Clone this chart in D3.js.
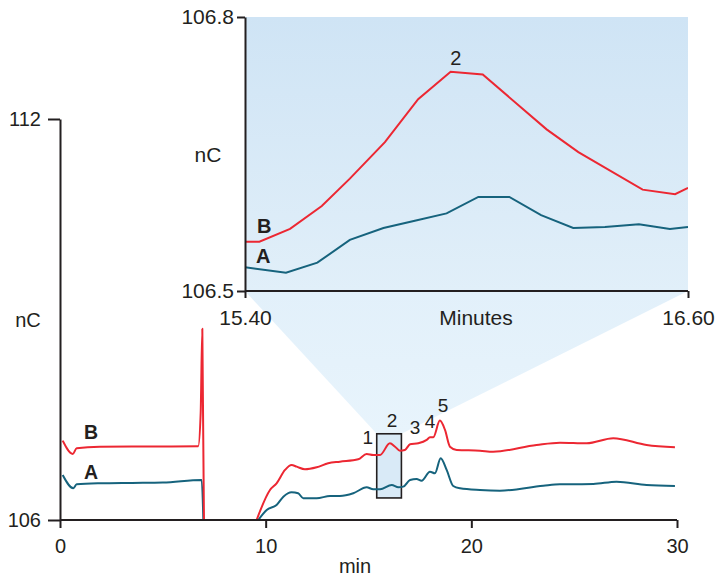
<!DOCTYPE html>
<html>
<head>
<meta charset="utf-8">
<script src="https://cdn.jsdelivr.net/npm/d3@7"></script>
<style>
  html, body { margin: 0; padding: 0; background: #fff; }
  svg { display: block; font-family: "Liberation Sans", Arial, sans-serif; }
</style>
</head>
<body>
<svg id="chart" width="722" height="577"></svg>
<script>
// ---------- Main chromatogram data (min, nC) ----------
const timesB = [0.13, 0.62, 0.81, 1.94, 3.5, 5.0, 6.72, 6.84, 6.92, 7.0, null,
  9.56, 10.21, 10.53, 10.94, 11.26, 11.51, 11.91, 12.48, 13.04, 13.61, 14.50, 14.91, 15.23, 15.56,
  16.04, 16.29, 16.53, 16.77, 17.02, 17.42, 17.83, 17.99, 18.15, 18.47, 18.72, 18.96, 19.29, 20.42,
  21.06, 23.17, 24.31, 25.61, 26.90, 28.52, 29.90];
const valuesB = [107.187, 106.988, 107.073, 107.097, 107.100, 107.100, 107.105, 107.6, 108.86, 106.0, null,
  106.0, 106.449, 106.549, 106.749, 106.823, 106.798, 106.759, 106.789, 106.849, 106.873, 106.909, 106.988, 106.973, 106.973,
  107.148, 107.097, 107.037, 107.048, 107.133, 107.148, 107.198, 107.238, 107.238, 107.487, 107.347, 107.097, 107.048, 107.037,
  107.022, 107.123, 107.157, 107.148, 107.223, 107.123, 107.088];

const timesA = [0.13, 0.65, 0.81, 1.94, 3.5, 5.0, 6.89, 6.97, null,
  9.64, 10.05, 10.53, 10.86, 11.26, 11.58, 11.83, 12.48, 13.13, 13.61, 14.26, 14.91, 15.23, 15.56,
  16.13, 16.45, 16.69, 17.02, 17.34, 17.58, 17.99, 18.23, 18.51, 18.80, 19.12, 19.45, 20.42,
  21.39, 23.50, 24.31, 25.93, 27.06, 28.52, 29.90];
const valuesA = [106.674, 106.475, 106.534, 106.549, 106.555, 106.560, 106.599, 106.0, null,
  106.0, 106.150, 106.225, 106.349, 106.415, 106.400, 106.325, 106.325, 106.359, 106.359, 106.400, 106.490, 106.460, 106.460,
  106.524, 106.490, 106.499, 106.599, 106.614, 106.588, 106.723, 106.699, 106.924, 106.749, 106.509, 106.475, 106.449,
  106.439, 106.513, 106.534, 106.539, 106.573, 106.524, 106.509];

const peakLabels = ["1", "2", "3", "4", "5"];
const peakTimes  = [14.97, 16.14, 17.26, 17.99, 18.62];
const peakValues = [107.138, 107.392, 107.287, 107.377, 107.617];

const mainXTicks = [0, 10, 20, 30];
const mainYTicks = [106, 112];

// zoom window
const zoomTimeRange = [15.40, 16.60];
const zoomBoxValues = [106.33, 107.29];

// ---------- Inset data ----------
const insetTimesB = [15.40, 15.439, 15.522, 15.608, 15.684, 15.779, 15.869, 15.957, 16.044, 16.217, 16.303, 16.477, 16.565, 16.60];
const insetValuesB = [106.554, 106.554, 106.568, 106.593, 106.623, 106.663, 106.710, 106.740, 106.737, 106.677, 106.652, 106.611, 106.606, 106.613];
const insetTimesA = [15.40, 15.511, 15.596, 15.684, 15.775, 15.860, 15.946, 16.032, 16.116, 16.202, 16.289, 16.375, 16.467, 16.551, 16.60];
const insetValuesA = [106.526, 106.520, 106.531, 106.556, 106.569, 106.577, 106.585, 106.603, 106.603, 106.583, 106.569, 106.570, 106.573, 106.568, 106.570];
const insetXTicks = [15.40, 16.60];
const insetYTicks = [106.5, 106.8];
const insetPeakLabel = "2";
const insetPeakTime = 15.971;
const insetPeakValue = 106.747;

const seriesNames = ["B", "A"];

// ---------- Drawing ----------
const svg = d3.select("#chart");
const RED = "#ec2732", TEAL = "#16637d", INK = "#231f20";
const FONT = "Liberation Sans, Arial, sans-serif";

const x = d3.scaleLinear().domain([0, 30]).range([60, 677]);
const y = d3.scaleLinear().domain([106, 112]).range([520, 119]);

const xi = d3.scaleLinear().domain(zoomTimeRange).range([245, 688]);
const yi = d3.scaleLinear().domain([106.5, 106.8]).range([291, 17]);

const defs = svg.append("defs");
const grad = defs.append("linearGradient").attr("id", "insetGrad")
  .attr("x1", 0).attr("y1", 0).attr("x2", 0).attr("y2", 1);
grad.append("stop").attr("offset", "0%").attr("stop-color", "#cfe4f5");
grad.append("stop").attr("offset", "100%").attr("stop-color", "#e1eff9");
const grad2 = defs.append("linearGradient").attr("id", "coneGrad")
  .attr("x1", 0).attr("y1", 0).attr("x2", 0).attr("y2", 1);
grad2.append("stop").attr("offset", "0%").attr("stop-color", "#e2f0fa");
grad2.append("stop").attr("offset", "100%").attr("stop-color", "#e8f4fc");

defs.append("clipPath").attr("id", "mainClip").append("rect")
  .attr("x", x(0)).attr("y", y(112) - 5).attr("width", x(30) - x(0) + 5).attr("height", y(106) - y(112) + 5);
defs.append("clipPath").attr("id", "insetClip").append("rect")
  .attr("x", xi(zoomTimeRange[0])).attr("y", yi(106.8)).attr("width", xi(zoomTimeRange[1]) - xi(zoomTimeRange[0])).attr("height", yi(106.5) - yi(106.8));

// Cone from zoom box to inset
const coneTopL = [xi(zoomTimeRange[0]), yi(106.5)], coneTopR = [xi(zoomTimeRange[1]), yi(106.5)];
const boxL = x(zoomTimeRange[0]), boxR = x(zoomTimeRange[1]);
const boxT = y(zoomBoxValues[1]), boxB = y(zoomBoxValues[0]);
svg.append("path")
  .attr("d", d3.line()([coneTopL, [boxL, boxT], [boxR, boxT], coneTopR]) + "Z")
  .attr("fill", "url(#coneGrad)");

// Inset background
svg.append("rect")
  .attr("x", xi(zoomTimeRange[0])).attr("y", yi(106.8))
  .attr("width", xi(zoomTimeRange[1]) - xi(zoomTimeRange[0]))
  .attr("height", yi(106.5) - yi(106.8))
  .attr("fill", "url(#insetGrad)");

// Zoom box
svg.append("rect")
  .attr("x", boxL).attr("y", boxT).attr("width", boxR - boxL).attr("height", boxB - boxT)
  .attr("fill", "#d9eaf7").attr("stroke", INK).attr("stroke-width", 1.6);

// Main lines
const zip = (ts, vs) => ts.map((t, i) => [t, vs[i]]);
const mainLine = d3.line()
  .defined(d => d[0] != null && d[1] != null)
  .x(d => x(d[0])).y(d => y(d[1]))
  .curve(d3.curveMonotoneX);
const gMain = svg.append("g").attr("clip-path", "url(#mainClip)");
gMain.append("path").datum(zip(timesA, valuesA)).attr("d", mainLine)
  .attr("fill", "none").attr("stroke", TEAL).attr("stroke-width", 2).attr("stroke-linejoin", "round");
gMain.append("path").datum(zip(timesB, valuesB)).attr("d", mainLine)
  .attr("fill", "none").attr("stroke", RED).attr("stroke-width", 2).attr("stroke-linejoin", "round");

// Main axes
const axisFont = 20;
const gx = svg.append("g").attr("transform", `translate(0,${y(106)})`)
  .call(d3.axisBottom(x).tickValues(mainXTicks).tickSize(8).tickSizeOuter(0).tickPadding(11));
const gy = svg.append("g").attr("transform", `translate(${x(0)},0)`)
  .call(d3.axisLeft(y).tickValues(mainYTicks).tickFormat(d3.format("d")).tickSize(12).tickSizeOuter(0).tickPadding(7));
[gx, gy].forEach(g => {
  g.selectAll("path.domain").attr("stroke", INK).attr("stroke-width", 2);
  g.selectAll(".tick line").attr("stroke", INK).attr("stroke-width", 2);
  g.selectAll(".tick text").attr("font-size", axisFont).attr("fill", INK).attr("font-family", FONT);
});
gx.select("path.domain").attr("d", `M${x(0)},0H${x(30)}`);

svg.append("text").attr("x", 355).attr("y", 573).attr("text-anchor", "middle")
  .attr("font-size", axisFont).attr("fill", INK).text("min");
svg.append("text").attr("x", 28).attr("y", 327).attr("text-anchor", "middle")
  .attr("font-size", axisFont).attr("fill", INK).text("nC");

// Series labels main
svg.append("text").attr("x", 84).attr("y", 439).attr("font-size", 19.5).attr("font-weight", "bold")
  .attr("fill", INK).text(seriesNames[0]);
svg.append("text").attr("x", 84).attr("y", 479).attr("font-size", 19.5).attr("font-weight", "bold")
  .attr("fill", INK).text(seriesNames[1]);

// Peak labels
svg.selectAll("text.peak").data(peakLabels).enter().append("text")
  .attr("class", "peak")
  .attr("x", (d, i) => x(peakTimes[i])).attr("y", (d, i) => y(peakValues[i]))
  .attr("text-anchor", "middle").attr("font-size", 19).attr("fill", INK).text(d => d);

// Inset lines
const insetLine = d3.line().x(d => xi(d[0])).y(d => yi(d[1]));
const gIn = svg.append("g").attr("clip-path", "url(#insetClip)");
gIn.append("path").datum(zip(insetTimesA, insetValuesA)).attr("d", insetLine)
  .attr("fill", "none").attr("stroke", TEAL).attr("stroke-width", 2);
gIn.append("path").datum(zip(insetTimesB, insetValuesB)).attr("d", insetLine)
  .attr("fill", "none").attr("stroke", RED).attr("stroke-width", 2);

// Inset axes
const insetFont = 21;
const gxi = svg.append("g").attr("transform", `translate(0,${yi(106.5)})`)
  .call(d3.axisBottom(xi).tickValues(insetXTicks).tickFormat(d3.format(".2f")).tickSize(7).tickSizeOuter(0).tickPadding(12));
const gyi = svg.append("g").attr("transform", `translate(${xi(zoomTimeRange[0])},0)`)
  .call(d3.axisLeft(yi).tickValues(insetYTicks).tickFormat(d3.format(".1f")).tickSize(8).tickSizeOuter(0).tickPadding(3));
[gxi, gyi].forEach(g => {
  g.selectAll("path.domain").attr("stroke", INK).attr("stroke-width", 2);
  g.selectAll(".tick line").attr("stroke", INK).attr("stroke-width", 2);
  g.selectAll(".tick text").attr("font-size", insetFont).attr("fill", INK).attr("font-family", FONT);
});
gxi.select("path.domain").attr("d", `M${xi(zoomTimeRange[0])},0H${xi(zoomTimeRange[1])}`);

svg.append("text").attr("x", 476).attr("y", 325).attr("text-anchor", "middle")
  .attr("font-size", insetFont).attr("fill", INK).text("Minutes");
svg.append("text").attr("x", 208).attr("y", 162).attr("text-anchor", "middle")
  .attr("font-size", insetFont).attr("fill", INK).text("nC");

svg.append("text").attr("x", 257).attr("y", 233).attr("font-size", 20)
  .attr("font-weight", "bold").attr("fill", INK).text(seriesNames[0]);
svg.append("text").attr("x", 256).attr("y", 263).attr("font-size", 20)
  .attr("font-weight", "bold").attr("fill", INK).text(seriesNames[1]);
// inset peak label
svg.append("text").attr("x", xi(insetPeakTime)).attr("y", yi(insetPeakValue))
  .attr("text-anchor", "middle").attr("font-size", 20).attr("fill", INK).text(insetPeakLabel);
</script>
</body>
</html>
